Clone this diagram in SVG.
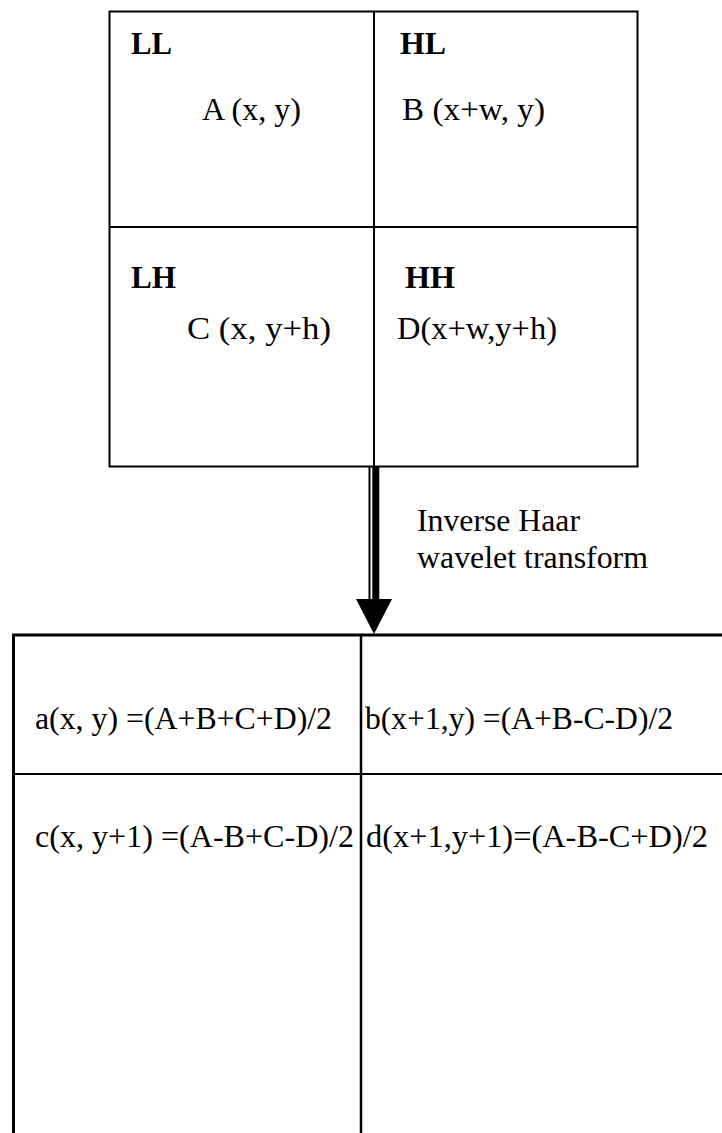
<svg xmlns="http://www.w3.org/2000/svg" width="722" height="1133" viewBox="0 0 722 1133">
<style>
.ln{stroke:#000;fill:none}
.t{font-family:"Liberation Serif","Times New Roman",serif;font-size:31px;fill:#000}
.b{font-weight:bold}
</style>
<rect width="722" height="1133" fill="#fff"/>
<g id="top-grid">
<rect class="ln" x="109.5" y="11.5" width="528" height="455" stroke-width="2"/>
<line class="ln" x1="374" y1="11" x2="374" y2="466" stroke-width="2"/>
<line class="ln" x1="109" y1="227" x2="638" y2="227" stroke-width="2"/>
</g>
<g id="node-LL">
<text class="t b" x="131" y="54" textLength="41" lengthAdjust="spacingAndGlyphs">LL</text>
<text class="t" x="202" y="120" textLength="99" lengthAdjust="spacingAndGlyphs">A (x, y)</text>
</g>
<g id="node-HL">
<text class="t b" x="400" y="54" textLength="46" lengthAdjust="spacingAndGlyphs">HL</text>
<text class="t" x="402" y="120" textLength="143" lengthAdjust="spacingAndGlyphs">B (x+w, y)</text>
</g>
<g id="node-LH">
<text class="t b" x="131" y="288" textLength="45" lengthAdjust="spacingAndGlyphs">LH</text>
<text class="t" x="187" y="339" textLength="144" lengthAdjust="spacingAndGlyphs">C (x, y+h)</text>
</g>
<g id="node-HH">
<text class="t b" x="405" y="288" textLength="50" lengthAdjust="spacingAndGlyphs">HH</text>
<text class="t" x="397" y="339" textLength="160" lengthAdjust="spacingAndGlyphs">D(x+w,y+h)</text>
</g>
<g id="connectors">
<line class="ln" x1="369.5" y1="466" x2="369.5" y2="600" stroke-width="2"/>
<line class="ln" x1="375.8" y1="466" x2="375.8" y2="600" stroke-width="7"/>
<polygon points="356,599 392,599 374,634" fill="#000"/>
<text class="t" x="417" y="531" textLength="163" lengthAdjust="spacingAndGlyphs">Inverse Haar</text>
<text class="t" x="417" y="568" textLength="231" lengthAdjust="spacingAndGlyphs">wavelet transform</text>
</g>
<g id="bottom-grid">
<line class="ln" x1="13.5" y1="635" x2="13.5" y2="1133" stroke-width="3"/>
<line class="ln" x1="12" y1="635" x2="722" y2="635" stroke-width="3"/>
<line class="ln" x1="361" y1="635" x2="361" y2="1133" stroke-width="2.5"/>
<line class="ln" x1="12" y1="774" x2="722" y2="774" stroke-width="2"/>
</g>
<g id="node-a">
<text class="t" x="35" y="729" textLength="297" lengthAdjust="spacingAndGlyphs">a(x, y) =(A+B+C+D)/2</text>
</g>
<g id="node-b">
<text class="t" x="365" y="729" textLength="308" lengthAdjust="spacingAndGlyphs">b(x+1,y) =(A+B-C-D)/2</text>
</g>
<g id="node-c">
<text class="t" x="35" y="847" textLength="319" lengthAdjust="spacingAndGlyphs">c(x, y+1) =(A-B+C-D)/2</text>
</g>
<g id="node-d">
<text class="t" x="366" y="847" textLength="342" lengthAdjust="spacingAndGlyphs">d(x+1,y+1)=(A-B-C+D)/2</text>
</g>
</svg>
